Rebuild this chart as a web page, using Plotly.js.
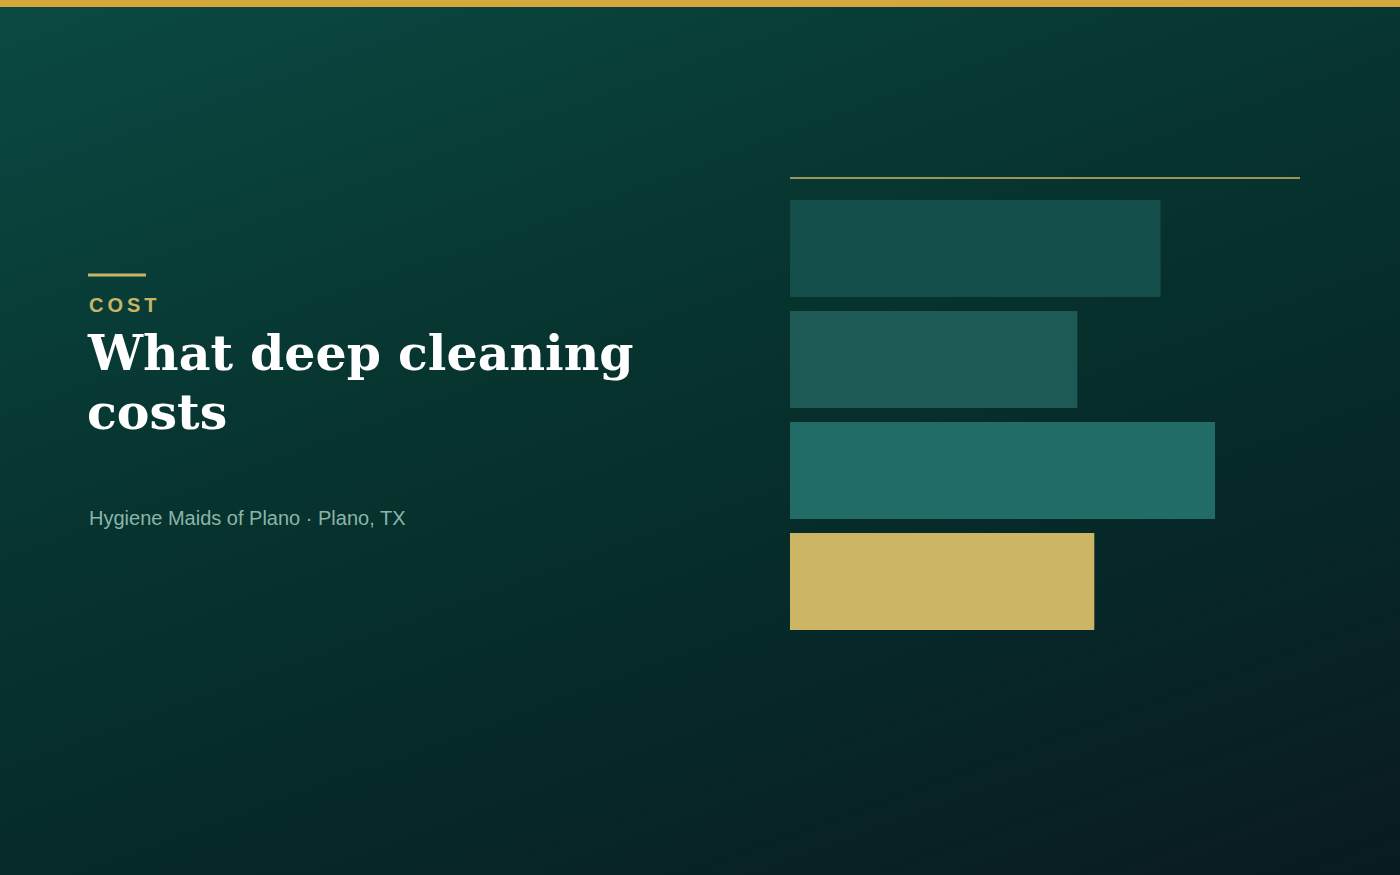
<!DOCTYPE html>
<html>
<head>
<meta charset="utf-8">
<script src="https://cdn.plot.ly/plotly-3.0.1.min.js"></script>
<style>
  html, body { margin: 0; padding: 0; width: 1400px; height: 875px; overflow: hidden; }
  body { background: linear-gradient(160deg, #0b4a43 0%, #07342f 40%, #062a29 65%, #0a1a21 100%); }
  #chart { width: 1400px; height: 875px; }
</style>
</head>
<body>
<div id="chart"></div>
<script>
// Data
const categories = ["National average", "Dallas area average", "Premium services", "Hygiene Maids of Plano"];
const costs = [218, 169, 250, 179];
const barColors = ["#134e4a", "#1d5a56", "#226c67", "#cdb566"];

const eyebrow = "C\u2009O\u2009S\u2009T";
const titleLine1 = "What deep cleaning";
const titleLine2 = "costs";
const subtitle = "Hygiene Maids of Plano \u00b7 Plano, TX";

const W = 1400, H = 875;
const px = x => x / W;
const py = y => 1 - y / H;

const trace = {
  type: "bar",
  orientation: "h",
  y: categories,
  x: costs,
  marker: { color: barColors, line: { width: 0 } },
  hovertemplate: "%{y}: $%{x}<extra></extra>"
};

const layout = {
  width: W, height: H,
  margin: { l: 0, r: 0, t: 0, b: 0, pad: 0 },
  paper_bgcolor: "rgba(0,0,0,0)",
  plot_bgcolor: "rgba(0,0,0,0)",
  showlegend: false,
  bargap: 0.126,
  xaxis: {
    domain: [px(790), px(1300)],
    range: [0, Math.max(...costs) * 1.2],
    visible: false, fixedrange: true
  },
  yaxis: {
    domain: [py(637), py(193)],
    autorange: "reversed",
    visible: false, fixedrange: true
  },
  shapes: [
    { type: "rect", xref: "paper", yref: "paper", x0: 0, x1: 1, y0: py(7), y1: 1,
      fillcolor: "#d4a83c", line: { width: 0 }, layer: "above" },
    { type: "line", xref: "paper", yref: "paper", x0: px(790), x1: px(1300), y0: py(178), y1: py(178),
      line: { color: "rgba(205,181,102,0.75)", width: 2 } },
    { type: "line", xref: "paper", yref: "paper", x0: px(88), x1: px(146), y0: py(275), y1: py(275),
      line: { color: "#c9b469", width: 3 } }
  ],
  annotations: [
    { xref: "paper", yref: "paper", x: px(87), y: py(305), xanchor: "left", yanchor: "middle",
      text: "<b>" + eyebrow + "</b>", showarrow: false,
      font: { family: "Liberation Sans, Arial, sans-serif", size: 20, color: "#c9b469" } },
    { xref: "paper", yref: "paper", x: px(85), y: py(353), xanchor: "left", yanchor: "middle",
      text: "<b>" + titleLine1 + "</b>", showarrow: false,
      font: { family: "DejaVu Serif, Georgia, serif", size: 49, color: "#ffffff" } },
    { xref: "paper", yref: "paper", x: px(85), y: py(412), xanchor: "left", yanchor: "middle",
      text: "<b>" + titleLine2 + "</b>", showarrow: false,
      font: { family: "DejaVu Serif, Georgia, serif", size: 49, color: "#ffffff" } },
    { xref: "paper", yref: "paper", x: px(87), y: py(518), xanchor: "left", yanchor: "middle",
      text: subtitle, showarrow: false,
      font: { family: "Liberation Sans, Arial, sans-serif", size: 20, color: "#8ab5aa" } }
  ]
};

Plotly.newPlot("chart", [trace], layout, { displayModeBar: false });
</script>
</body>
</html>
